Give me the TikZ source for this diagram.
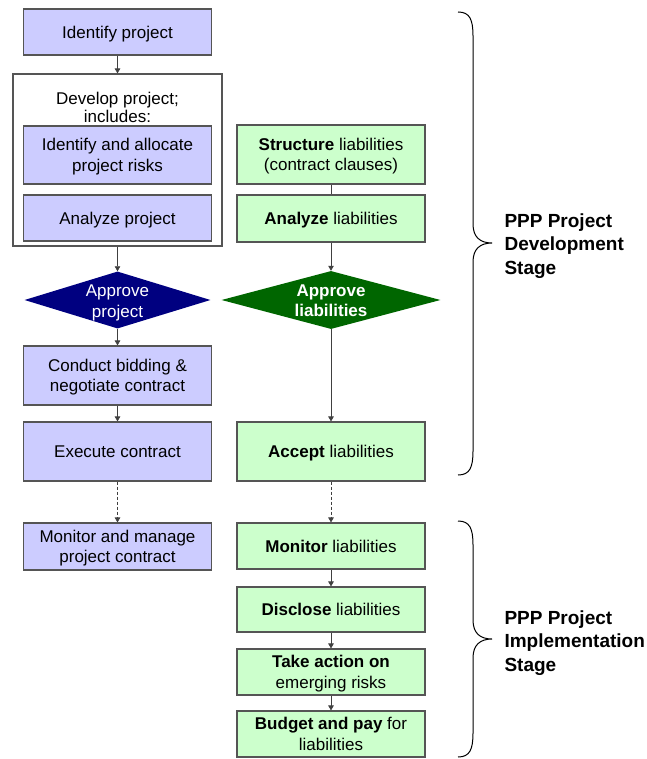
\documentclass[tikz,border=0pt]{standalone}
\usepackage{fontspec}
\setmainfont{Liberation Sans}
\usetikzlibrary{arrows.meta,shapes.geometric}
\definecolor{lav}{HTML}{CCCCFF}
\definecolor{mint}{HTML}{CCFFCC}
\definecolor{navy}{HTML}{000080}
\definecolor{dgreen}{HTML}{006600}
\definecolor{edgegray}{HTML}{555555}
\definecolor{conn}{HTML}{404040}
\begin{document}
\begin{tikzpicture}[x=1pt,y=-1pt,
 box/.style={draw=edgegray, line width=1.1pt, minimum width=188pt, inner sep=0pt, text depth=0pt, align=center, font=\fontsize{17}{20.5}\selectfont},
 lbox/.style={box, fill=lav},
 gbox/.style={box, fill=mint},
 dia/.style={diamond, inner sep=0pt, draw=none},
 dtext/.style={text=white, align=center, text depth=0pt, font=\fontsize{17}{20.5}\selectfont},
 arr/.style={draw=conn, line width=0.8pt, -{Triangle[width=5.5pt,length=5pt]}},
 darr/.style={arr, dash pattern=on 3pt off 2pt},
 plain/.style={draw=conn, line width=0.8pt},
 bracepath/.style={draw=black, line width=1pt},
 stage/.style={align=left, anchor=west, font=\fontsize{19}{23.5}\selectfont\bfseries}
]
\useasboundingbox (0,0) rectangle (646,759);

% left column
\node[lbox, minimum height=46pt] (idp) at (117.5,32) {Identify project};
\node[box, fill=white, minimum width=209pt, minimum height=172pt] (dev) at (117.5,160) {};
\node[align=center, inner sep=0pt, text depth=0pt, font=\fontsize{17}{18.5}\selectfont] (devt) at (117.5,107.5) {Develop project;\\includes:};
\node[lbox, minimum height=58pt] (risks) at (117.5,155) {Identify and allocate\\project risks};
\node[lbox, minimum height=46pt] (anp) at (117.5,218) {Analyze project};
\node[dia, fill=navy, minimum width=186pt, minimum height=57pt] (appP) at (117.5,300) {};
\node[dtext] (appPt) at (117.5,301) {Approve\\project};
\node[lbox, minimum height=59pt] (cbid) at (117.5,375.5) {Conduct bidding \&\\negotiate contract};
\node[lbox, minimum height=59pt] (exe) at (117.5,451.5) {Execute contract};
\node[lbox, minimum height=47pt] (mon) at (117.5,546.5) {Monitor and manage\\project contract};

% right column
\node[gbox, minimum height=59pt] (str) at (331,154.5) {\textbf{Structure} liabilities\\(contract clauses)};
\node[gbox, minimum height=47pt] (anl) at (331,218.5) {\textbf{Analyze} liabilities};
\node[dia, fill=dgreen, minimum width=219pt, minimum height=58pt] (apl) at (331,300) {};
\node[dtext, font=\fontsize{17}{20.5}\selectfont\bfseries] (aplt) at (331,300.5) {Approve\\liabilities};
\node[gbox, minimum height=59pt] (acc) at (331,451.5) {\textbf{Accept} liabilities};
\node[gbox, minimum height=46pt] (monl) at (331,546) {\textbf{Monitor} liabilities};
\node[gbox, minimum height=45pt] (dis) at (331,609.5) {\textbf{Disclose} liabilities};
\node[gbox, minimum height=46pt] (take) at (331,672) {\textbf{Take action on}\\emerging risks};
\node[gbox, minimum height=46pt] (bud) at (331,734) {\textbf{Budget and pay} for\\liabilities};

% connectors
\draw[arr] (idp) -- (dev);
\draw[arr] (dev) -- (appP);
\draw[arr] (appP) -- (cbid);
\draw[arr] (cbid) -- (exe);
\draw[darr] (exe) -- (mon);
\draw[plain] (str) -- (anl);
\draw[arr] (anl) -- (apl);
\draw[arr] (apl) -- (acc);
\draw[darr] (acc) -- (monl);
\draw[arr] (monl) -- (dis);
\draw[arr] (dis) -- (take);
\draw[arr] (take) -- (bud);

% braces
\draw[bracepath] (458,12) .. controls (470,12) and (473,20) .. (473,36) -- (473,224)
  .. controls (473,237) and (480,243) .. (492,243)
  .. controls (480,243) and (473,249) .. (473,262) -- (473,451)
  .. controls (473,467) and (470,475) .. (458,475);
\draw[bracepath] (458,521) .. controls (470,521) and (473,529) .. (473,545) -- (473,620)
  .. controls (473,633) and (480,639) .. (492,639)
  .. controls (480,639) and (473,645) .. (473,658) -- (473,733)
  .. controls (473,749) and (470,757) .. (458,757);
\node[stage] (dstage) at (501,246) {PPP Project\\Development\\Stage};
\node[stage] (istage) at (501,643) {PPP Project\\Implementation\\Stage};
\end{tikzpicture}
\end{document}
